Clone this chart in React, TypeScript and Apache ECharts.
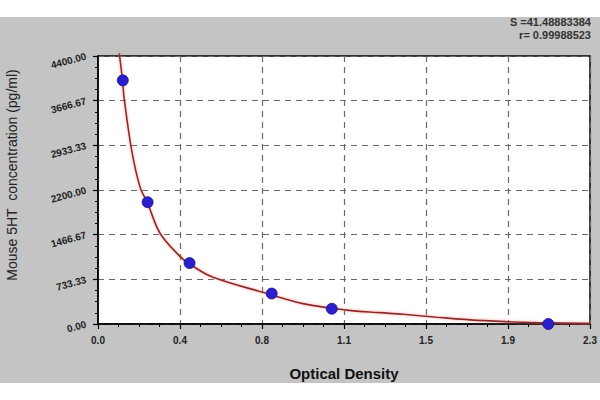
import React, { useEffect, useRef } from "react";
import * as echarts from "echarts";

const stdOD = [0.116, 0.232, 0.428, 0.812, 1.093, 2.105];
const stdConc = [4000, 2000, 1000, 500, 250, 0];

const curveOD = [0.0996, 0.1155, 0.1216, 0.1575, 0.1964, 0.232, 0.29, 0.383, 0.428, 0.532, 0.765, 0.958, 1.163, 1.318, 1.426, 1.583, 1.739, 1.911, 2.051, 2.285, 2.3];
const curveConc = [4444, 3968, 3720, 2850, 2250, 1982, 1490, 1110, 985, 775, 525, 335, 228, 186, 160, 112, 68, 38, 22, 11, 10];

const xTickLabels = ["0.0", "0.4", "0.8", "1.1", "1.5", "1.9", "2.3"];
const yTickLabels = ["0.00", "733.33", "1466.67", "2200.00", "2933.33", "3666.67", "4400.00"];

const fitS = "S =41.48883384";
const fitR = "r= 0.99988523";

export default function App() {
  const ref = useRef<HTMLDivElement>(null);
  useEffect(() => {
    if (!ref.current) return;
    const chart = echarts.init(ref.current, null, { renderer: "svg" });
    const font = "'Liberation Sans', Arial, sans-serif";
    const gridLine = { show: true, lineStyle: { color: "#6a6a6a", type: [6, 5] as any, width: 1.2 } };
    chart.setOption({
      animation: false,
      backgroundColor: "#ffffff",
      graphic: [
        { type: "rect", z: -10, silent: true, shape: { x: 0, y: 17, width: 600, height: 366 }, style: { fill: "#c4c4c4" } },
        {
          type: "text", x: 12, y: 175, rotation: Math.PI / 2,
          style: { text: "Mouse 5HT  concentration (pg/ml)", font: `14px ${font}`, fill: "#222", align: "center", verticalAlign: "middle" },
        },
        { type: "text", x: 591, y: 22, style: { text: fitS, font: `bold 11px ${font}`, fill: "#333", align: "right", verticalAlign: "middle" } },
        { type: "text", x: 591, y: 35, style: { text: fitR, font: `bold 11px ${font}`, fill: "#333", align: "right", verticalAlign: "middle" } },
      ],
      grid: {
        left: 98, top: 56, right: 10, bottom: 76,
        show: true, backgroundColor: "#ffffff", borderColor: "#000", borderWidth: 1.5,
      },
      xAxis: {
        type: "value", min: 0, max: 2.3, interval: 2.3 / 6,
        name: "Optical Density", nameLocation: "middle", nameGap: 42,
        nameTextStyle: { fontFamily: font, fontSize: 15, fontWeight: "bold", color: "#111" },
        axisLine: { show: true, lineStyle: { color: "#000", width: 1.5 } },
        axisTick: { show: true, length: 5, lineStyle: { color: "#000", width: 1.2 } },
        minorTick: { show: true, splitNumber: 4, length: 3, lineStyle: { color: "#000", width: 1 } },
        splitLine: gridLine,
        axisLabel: {
          margin: 11, fontFamily: font, fontSize: 10, fontWeight: "bold", color: "#222",
          formatter: (_v: number, i: number) => xTickLabels[i] ?? "",
        },
      },
      yAxis: {
        type: "value", min: 0, max: 4400, interval: 4400 / 6,
        axisLine: { show: true, lineStyle: { color: "#000", width: 1.5 } },
        axisTick: { show: true, length: 5, lineStyle: { color: "#000", width: 1.2 } },
        minorTick: { show: true, splitNumber: 4, length: 3, lineStyle: { color: "#000", width: 1 } },
        splitLine: gridLine,
        axisLabel: {
          margin: 12, rotate: 15, fontFamily: font, fontSize: 10, fontWeight: "bold", color: "#222",
          formatter: (_v: number, i: number) => yTickLabels[i] ?? "",
        },
      },
      series: [
        {
          type: "line",
          data: curveOD.map((x, i) => [x, curveConc[i]]),
          showSymbol: false,
          smooth: 0.35,
          clip: false,
          lineStyle: { color: "#8a2a2a", width: 1.6, shadowColor: "rgba(255,120,120,0.7)", shadowBlur: 3 },
          z: 3,
        },
        {
          type: "scatter",
          data: stdOD.map((x, i) => [x, stdConc[i]]),
          symbolSize: 11,
          itemStyle: { color: "#2b1fcc", borderColor: "#1a128f", borderWidth: 0.8, opacity: 1 },
          clip: false,
          z: 5,
        },
      ],
    });
    return () => chart.dispose();
  }, []);
  return <div ref={ref} style={{ position: "fixed", left: 0, top: 0, width: 600, height: 400 }} />;
}
